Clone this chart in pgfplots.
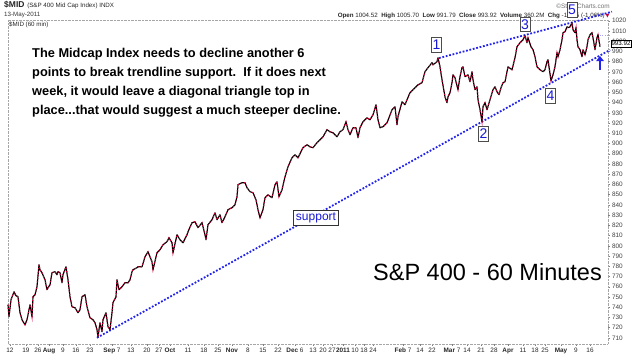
\documentclass[border=0pt]{standalone}
\usepackage{fontspec}
\setmainfont{Liberation Sans}
\newfontfamily\dejavu{DejaVu Sans}
\usepackage{pgfplots}
\usepackage{pgfplotstable}
\pgfplotsset{compat=1.18}
\usetikzlibrary{arrows.meta,shadows}
\definecolor{tlblue}{RGB}{35,35,235}
\definecolor{barred}{RGB}{205,0,50}
\definecolor{lblblue}{RGB}{25,25,215}

\pgfplotstableread{
x v
8 742.4
9 730.7
11 747.3
14 755.1
16 751.2
18 750.2
20 734.6
22 727.7
25 722.8
27 727.7
30 742.4
32 730.7
33 750.2
35 752.2
37 760.0
39 781.5
40 776.6
42 773.7
45 766.8
47 757.1
48 759.0
50 761.9
52 773.7
55 774.7
57 771.7
58 774.7
60 773.7
62 763.9
63 771.7
66 779.5
68 766.8
70 750.2
72 740.4
75 739.5
78 734.6
80 737.5
82 750.2
85 752.2
87 740.4
90 729.7
93 727.7
95 724.8
97 718.0
98 711.1
100 724.8
102 716.0
103 727.7
106 734.6
108 720.9
110 718.0
112 734.6
113 744.4
116 750.2
117 766.8
119 757.1
122 760.0
125 763.9
128 763.9
130 766.8
132 774.7
133 776.6
137 778.6
138 779.5
142 779.5
145 789.3
148 794.2
152 784.4
153 776.6
157 793.2
160 796.2
163 801.0
167 804.0
169 807.9
172 803.0
173 793.2
177 810.8
180 805.9
183 803.0
187 810.8
188 813.8
192 822.6
195 823.5
198 817.7
202 822.6
205 810.8
206 805.9
208 820.6
212 825.5
215 832.3
217 825.5
220 830.4
222 822.6
225 828.4
228 835.3
232 837.2
235 840.1
237 848.0
238 859.7
242 861.7
245 861.7
247 856.8
250 852.9
253 851.9
256 845.0
258 835.3
260 827.4
263 835.3
265 847.0
268 849.9
272 847.0
275 859.7
277 862.6
279 848.0
282 854.8
285 867.5
288 877.3
292 886.1
295 889.0
298 886.1
303 895.9
307 898.8
310 896.8
313 895.9
317 900.8
320 903.7
323 906.6
327 913.5
330 911.5
333 910.5
337 906.6
340 911.5
343 913.5
346 921.3
348 913.5
350 908.6
353 915.4
356 915.4
358 905.6
360 915.4
363 921.3
367 925.2
370 923.2
373 928.1
376 937.9
378 923.2
380 915.4
383 916.4
387 920.3
389 925.2
392 933.0
395 935.9
397 918.3
398 926.2
402 940.8
405 937.9
407 942.8
410 949.6
413 952.6
415 954.5
418 957.4
422 959.4
425 970.2
428 974.1
432 979.0
433 977.0
437 979.9
438 983.8
440 975.0
442 962.3
445 945.7
447 939.9
448 945.7
450 949.6
452 959.4
453 967.2
455 964.3
458 952.6
460 965.3
462 974.1
463 975.0
465 965.3
468 967.2
470 960.4
472 970.2
473 962.3
475 952.6
477 955.5
478 942.8
480 933.0
482 921.3
483 935.9
485 939.9
487 933.0
490 942.8
493 952.6
495 955.5
497 950.6
499 947.7
501 954.5
503 959.4
505 960.4
507 970.2
508 975.0
512 972.1
515 983.8
517 994.6
520 998.5
523 1001.4
525 1005.3
527 998.5
528 1003.4
531 994.6
533 991.7
535 984.8
537 975.0
540 972.1
543 970.2
545 972.1
547 979.9
548 981.9
549 975.0
551 961.4
553 967.2
555 975.0
557 988.7
558 984.8
560 991.7
562 1001.4
563 1008.3
565 1009.3
567 1014.1
568 1013.2
570 1014.1
572 1018.1
573 1011.2
575 1008.3
576 1013.2
577 1001.4
578 994.6
580 991.7
582 984.8
583 991.7
585 986.8
587 994.6
588 1001.4
590 1006.3
592 1008.3
593 1003.4
595 991.7
597 1003.4
598 1006.3
600 994.6
}\price

\begin{document}
\begin{tikzpicture}[x=1pt,y=1pt]
\useasboundingbox (0,0) rectangle (633,355);
% header
\node[anchor=base west, inner sep=0pt, text=black!85] at (4,347.5)
  {{\bfseries\fontsize{8.5}{9}\selectfont \$MID} {\fontsize{6.2}{7}\selectfont (S\&P 400 Mid Cap Index) INDX}};
\node[anchor=base west, inner sep=0pt, text=black!80, font=\fontsize{6.2}{7}\selectfont] at (4,338) {13-May-2011};
\node[anchor=base east, inner sep=0pt, text=black!55, font=\fontsize{6.4}{7}\selectfont] at (610,346.5) {\textcopyright StockCharts.com};
\node[anchor=base east, inner sep=0pt, text=black!85, font=\fontsize{6.2}{7}\selectfont] at (605,337.5)
  {\textbf{Open} 1004.52 \ \textbf{High} 1005.70 \ \textbf{Low} 991.79 \ \textbf{Close} 993.92 \ \textbf{Volume} 360.2M \ \textbf{Chg} -10.65 (-1.06\%)};
\node[anchor=base west, inner sep=0pt, text=barred, font=\dejavu\fontsize{5}{6}\selectfont] at (605.5,337.8) {▼};
\begin{axis}[
  at={(8,11)}, anchor=south west,
  scale only axis, width=600pt, height=324pt,
  xmin=8, xmax=608, ymin=704.27, ymax=1020.98,
  clip=false,
  axis line style={black!35, densely dotted},
  ytick={710,720,...,1020},
  ytick pos=right, yticklabel pos=right,
  tick align=outside, major tick length=2pt,
  tick style={black!50, solid, line width=0.4pt},
  yticklabel style={font=\fontsize{6.4}{7}\selectfont, text=black!75, xshift=-1.5pt},
  xticklabel style={font=\fontsize{6.4}{7}\selectfont, text=black!85, yshift=1.5pt},
  /pgf/number format/assume math mode=true,
  /pgf/number format/1000 sep={},
  xtick pos=bottom,
  xtick={10,26,38,49,63,76,90,112,131,147,159,170,188,204,218,232,248,263,278,295,313,323,332,343,355,364,373,403,420,432,452,467,481,494,508,523,535,545,561,576,590},
  xticklabels={12,19,26,\textbf{Aug},9,16,23,\textbf{Sep} 7,13,20,27,\textbf{Oct},11,18,25,\textbf{Nov},8,15,22,\textbf{Dec} 6,13,20,27,\textbf{2011},10,18,24,\textbf{Feb} 7,14,22,\textbf{Mar} 7,14,21,28,\textbf{Apr},11,18,25,\textbf{May},9,16},
]
% trendlines
\addplot[tlblue, line width=1.8pt, dash pattern=on 1.8pt off 1.7pt] coordinates {(97,710.1) (610,991.5)};
\addplot[tlblue, line width=1.8pt, dash pattern=on 1.8pt off 1.7pt] coordinates {(439,983.5) (612,1028.8)};
\addplot[blue!35, line width=0.9pt, dash pattern=on 1pt off 1.2pt] coordinates {(598,1005.3) (610,1005.3)};
% price
\addplot[black, line width=1.15pt, line join=round] table[x=x,y=v] {\price};
\addplot[barred, line width=1.15pt, dash pattern=on 1.1pt off 2.2pt] table[x=x,y=v] {\price};
% arrow
\addplot[tlblue, line width=2.6pt, -{Triangle[width=7.5pt,length=5pt]}] coordinates {(600,971.5) (600,985.5)};
% labels
\tikzset{nbox/.style={draw=black!70, fill=white, text=lblblue, font=\fontsize{14}{14}\selectfont, inner xsep=1.2pt, inner ysep=2.3pt, drop shadow={shadow xshift=0.8pt, shadow yshift=-0.8pt, fill=black!40}}}
\node[nbox] at (axis cs:436.5,996.5) {1};
\node[nbox] at (axis cs:483.5,909.6) {2};
\node[nbox] at (axis cs:525,1016.6) {3};
\node[nbox] at (axis cs:550.5,946.7) {4};
\coordinate (five) at (axis cs:572,1030.8);
\node[draw=black!80, fill=white, text=lblblue, font=\fontsize{12}{12}\selectfont, inner xsep=2.5pt, inner ysep=2.5pt] at (axis cs:316,827.5) {support};
\coordinate (pbox) at (axis cs:610.5,997.6);
\node[anchor=base west, inner sep=0pt, text=black!85, font=\fontsize{6.2}{7}\selectfont] at (axis cs:9,1014.5) {\$MID (60 min)};
\end{axis}
\node[draw=black!70, fill=white, text=lblblue, font=\fontsize{14}{14}\selectfont, inner xsep=1.2pt, inner ysep=2.3pt, drop shadow={shadow xshift=0.8pt, shadow yshift=-0.8pt, fill=black!40}] at (five) {5};
\node[draw=black, fill=white, font=\fontsize{6.2}{7}\selectfont, inner xsep=0.8pt, inner ysep=1pt, anchor=west] at (pbox) {993.92};
% annotation text
\begin{scope}[every node/.style={anchor=base west, inner sep=0pt, font=\bfseries\fontsize{12.8}{15}\selectfont}]
\node at (32,355-58) {The Midcap Index needs to decline another 6};
\node at (32,355-77) {points to break trendline support.\ \ If it does next};
\node at (32,355-96) {week, it would leave a diagonal triangle top in};
\node at (32,355-115) {place...that would suggest a much steeper decline.};
\end{scope}
\node[anchor=base east, inner sep=0pt, font=\fontsize{23.5}{25}\selectfont] at (602,355-280.5) {S\&P 400 - 60 Minutes};
\end{tikzpicture}
\end{document}
